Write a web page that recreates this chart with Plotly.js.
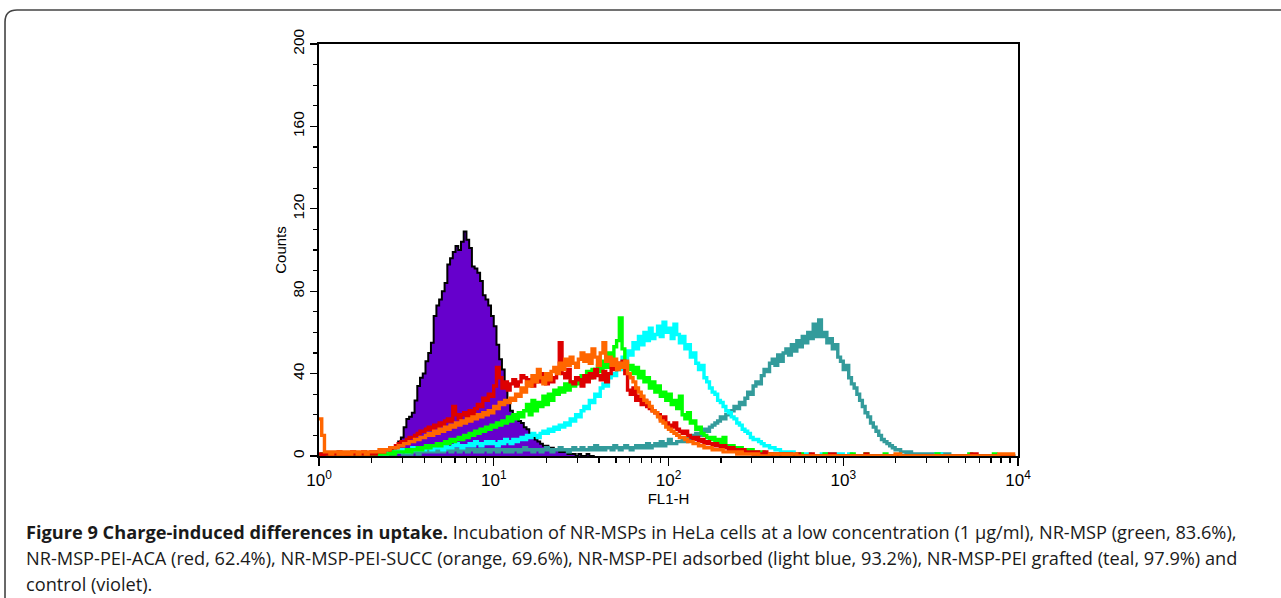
<!DOCTYPE html>
<html>
<head>
<meta charset="utf-8">
<script src="https://cdn.plot.ly/plotly-3.0.1.min.js"></script>
<style>
  html, body { margin: 0; padding: 0; background: #ffffff; }
  #chart { width: 1281px; height: 598px; }
</style>
</head>
<body>
<div id="chart"></div>
<script>
// FL1-H histogram: 64 channels per decade, channel c -> FL1-H = 10^(c/64)
const channelsPerDecade = 64;

// control (violet), channels starting at 20
const violetStart = 20;
const violetCounts = [0,1,0,1,1,1,2,3,4,7, 9,14,18,19,21,27,34,38,40,46, 50,55,68,73,76,80,84,93,96,99,
  102,100,104,109,105,101,92,91,89,85, 78,76,73,68,63,54,47,42,34,27, 22,19,18,17,16,14,13,11,9,8,
  7,6,5,5,4,4,3,3,2,2, 2,1,1,1,0,1,0,0,1,0, 0,0];

// NR-MSP-PEI grafted (teal), channels starting at 30
const tealStart = 30;
const tealCounts = [1,1,2,1,2,2,1,2,2,3, 2,2,3,2,3,2,3,3,2,3, 3,2,3,3,2,3,3,2,3,2, 3,3,2,3,3,2,3,3,2,3,
  2,3,3,2,3,4,3,3,2,3, 3,2,3,4,3,2,3,3,4,3, 3,2,3,4,3,3,4,3,3,4, 3,5,3,4,3,4,4,3,5,4,
  3,4,5,4,3,4,5,4,5,4, 6,4,5,6,5,7,5,6,8,6,
  6,7,7,8,7,9,8,10,11,10, 12,13,12,14,15,16,17,19,18,20, 21,22,24,23,26,25,28,31,30,34,
  36,35,39,42,41,45,47,44,49,46, 50,52,49,54,51,56,53,58,55,60, 57,64,58,66,58,60,55,57,52,54,
  48,46,42,44,38,35,33,30,27,24, 21,19,16,14,12,10,8,7,6,5, 4,3,3,2,2,1,2,1,1,1,
  1,1,0,1,1,0,1,1,0,1, 1,0];

// NR-MSP-PEI adsorbed (light blue), channels starting at 20
const cyanStart = 20;
const cyanCounts = [1,1,1,2,1,2,2,2,3,2, 3,3,2,3,4,3,3,4,3,4, 5,3,4,5,4,3,5,4,4,5, 6,5,4,5,5,6,5,7,6,5, 6,7,6,7,
  6,5,7,6,8,7,6,8,7,8, 9,8,10,9,11,10,9,11,12,11, 13,12,14,13,15,14,16,15,18,17,
  20,19,22,24,23,27,26,30,29,33, 35,34,38,40,39,44,42,48,46,
  51,49,55,52,58,54,60,56,62,57, 59,63,58,65,60,62,57,64,59,55, 58,52,54,48,50,45,42,44,38,36,
  33,31,30,27,26,24,22,21,19,18, 16,15,13,12,11,9,8,8,7,6, 5,5,4,4,3,3,2,2,2,1, 2,1,1,1,
  1,0,1,0,0,0,0,1,1,0, 1,1,0,1,1,0,0,1,0,0, 0,0,0,0,0,0,0,0,0,0, 0,0,0,0,0,0,0,0,0,0,
  0,0,0,0,0,0,0,0,0,1, 1,0,0,0];

// NR-MSP (green), channels starting at 0
const greenStart = 0;
const greenCounts = [0,1,1,0,1,1,1,0,1,1, 0,1,1,0,1,1,1,0,1,0, 1,1,1,1,1,1,2,1,2,2, 2,2,3,2,3,3,4,3,4,5,
  4,5,5,6,5,6,7,6,8,7, 8,9,8,10,9,11,10,12,11,13, 12,14,13,15,
  14,16,15,17,16,19,17,20,18,21, 19,22,25,20,27,22,26,24,29,25, 30,27,32,30,33,31,35,32,36,34,
  38,35,39,37,41,38,42,40,44,41, 46,43,50,47,53,56,67,52,45,
  42,44,40,43,38,41,36,38,33,36, 31,34,29,31,27,30,25,27,23,29, 20,18,21,16,17,13,14,11,10,9,
  8,9,7,8,6,9,5,4,5,4, 3,4,3,3,2,3,2,2,1,2, 1,1,1,
  0,0,0,0,1,0,0,0,0,0, 1,0,0,0,0,0,0,0,0,1, 0,0,0,0,0,0,0,0,0,1, 0,0,0,0,1,0,0,0,0,0,
  0,1,0,0,0,0,0,0,0,0, 0,0,0,0,0,0,0,0,0,0, 1,0,0,0,0,0,0,0,0,0, 0,0,1,0,0,0,0,0,0,0,
  0,1,0,0,0,0,0,0,0,0];

// NR-MSP-PEI-ACA (red), channels starting at 0
const redStart = 0;
const redCounts = [1,0,1,1,0,1,1,2,1,1, 0,1,2,1,1,1,2,1,1,2, 1,2,
  2,2,3,3,4,4,5,6,7,7, 8,9,9,10,11,12,12,13,14,13, 15,14,16,15,17,18,17,24,20,18, 20,21,19,22,20,23,25,24,28,27, 30,29,
  34,43,38,33,36,32,35,37,34,36, 39,38,35,37,34,38,36,40,37,35, 39,36,38,41,55,40,38,42,36,35,
  38,37,34,39,36,40,38,42,39,37, 41,36,40,43,42,45,44,46,
  40,32,30,33,27,29,25,27,24,23, 22,21,20,18,19,16,15,14,16,13, 12,11,12,10,9,8,9,7,8,6,
  7,6,5,6,5,4,5,4,3,4, 3,3,2,3,2,2,2,1,2,1, 1,2,1,1,0,1,1,0,1,0, 1,0,0,1,
  0,0,0,0,1,0,0,0,0,0, 0,1,1,0,0,0,0,0,0,0, 0,0,0,0,1,0,0,0,0,0, 0,0,0,0,0,0,0,0,0,0,
  0,0,0,0,0,0,0,0,0,0, 0,0,0,0,0,0,0,0,0,0, 0,0,0,1,1,0,0,0,0,0, 0,0,0,0,0,0,0,0,0,0];

// NR-MSP-PEI-SUCC (orange), channels starting at 0
const orangeStart = 0;
const orangeCounts = [18,10,2,2,1,2,2,1,2,1, 2,1,2,2,1,2,2,1,2,2, 2,2,3,2,3,3,4,4,4,5, 5,6,6,7,7,8,8,9,9,10,
  11,10,12,11,13,12,14,13,15,14, 16,15,17,16,18,17,19,18,20,19, 21,20,22,21,
  24,23,26,25,27,26,28,27,30,29, 33,31,36,34,39,36,42,38,35,40, 37,41,43,40,45,42,47,44,48,45,
  43,47,50,46,49,45,52,48,44,50, 55,46,48,44,47,42,45,43,46,
  40,38,36,33,31,29,27,26,24,22, 21,19,17,16,14,13,12,11,10,9, 9,8,7,7,6,6,5,5,4,4,
  4,3,3,3,3,2,2,2,2,2, 1,2,1,1,1,1,1,1,
  0,0,0,0,1,1,0,1,1,0, 1,0,1,1,0,0,0,0,0,0, 0,0,0,0,0,0,0,0,0,0, 0,0,0,0,0,0,0,0,0,0,
  0,0,0,0,0,0,0,0,0,0, 1,1,0,0,0,0,0,0,0,0, 0,0,0,0,0,0,0,0,0,0, 0,0,0,0,0,0,0,0,0,0,
  0,0,0,0,0,0,0,0,1,1, 1,1,1,1,1];

const xTickVals = [1, 10, 100, 1000, 10000];
const xTickText = ['10<sup>0</sup>', '10<sup>1</sup>', '10<sup>2</sup>', '10<sup>3</sup>', '10<sup>4</sup>'];
const captionLines = [
  '<b>Figure 9 Charge-induced differences in uptake.</b> Incubation of NR-MSPs in HeLa cells at a low concentration (1 µg/ml), NR-MSP (green, 83.6%),',
  'NR-MSP-PEI-ACA (red, 62.4%), NR-MSP-PEI-SUCC (orange, 69.6%), NR-MSP-PEI adsorbed (light blue, 93.2%), NR-MSP-PEI grafted (teal, 97.9%) and',
  'control (violet).'
];

function channelX(start, n) {
  const xs = [];
  for (let i = 0; i < n; i++) xs.push(Math.pow(10, (start + i) / channelsPerDecade));
  return xs;
}

function stepTrace(name, start, counts, color, width) {
  return {
    type: 'scatter', mode: 'lines', name: name,
    x: channelX(start, counts.length), y: counts,
    line: {shape: 'hv', color: color, width: width},
    hoverinfo: 'x+y+name'
  };
}

const violet = stepTrace('control', violetStart, violetCounts, '#000000', 2);
violet.fill = 'tozeroy';
violet.fillcolor = '#6600CC';

const data = [
  violet,
  stepTrace('NR-MSP-PEI grafted', tealStart, tealCounts, '#339B9B', 3.4),
  stepTrace('NR-MSP-PEI adsorbed', cyanStart, cyanCounts, '#00FFFF', 3.4),
  stepTrace('NR-MSP', greenStart, greenCounts, '#00FF00', 3.4),
  stepTrace('NR-MSP-PEI-ACA', redStart, redCounts, '#DD0000', 3.4),
  stepTrace('NR-MSP-PEI-SUCC', orangeStart, orangeCounts, '#FF6600', 3.4)
];

const minorX = [];
for (let d = 0; d < 4; d++) for (let k = 2; k <= 9; k++) minorX.push(k * Math.pow(10, d));

// caption line centres at y = 532, 558, 584 px
const captionY = [-0.1845, -0.2476, -0.3107];
const annotations = captionLines.map((t, i) => ({
  xref: 'paper', yref: 'paper', x: -0.4225, y: captionY[i],
  xanchor: 'left', yanchor: 'middle', showarrow: false, align: 'left',
  text: t, font: {family: 'Open Sans, Noto Sans, sans-serif', size: 18.2, color: '#1a1a1a'}
}));

const layout = {
  width: 1281, height: 598,
  margin: {l: 319, r: 263, t: 44, b: 142, pad: 0},
  paper_bgcolor: '#ffffff', plot_bgcolor: '#ffffff',
  showlegend: false,
  font: {family: 'Liberation Sans, Arial, sans-serif', color: '#000000'},
  xaxis: {
    type: 'log', range: [0, 4], autorange: false,
    tickmode: 'array', tickvals: xTickVals, ticktext: xTickText,
    ticks: 'outside', ticklen: 8, tickwidth: 1.3, tickcolor: '#000',
    minor: {tickmode: 'array', tickvals: minorX, ticks: 'outside', ticklen: 5, tickwidth: 1.2, tickcolor: '#000', showgrid: false},
    showline: true, linecolor: '#000', linewidth: 1.6, mirror: true,
    showgrid: false, zeroline: false,
    tickfont: {size: 17},
    title: {text: 'FL1-H', font: {size: 15}, standoff: 4}
  },
  yaxis: {
    range: [0, 200], autorange: false,
    tickmode: 'linear', tick0: 0, dtick: 40, tickangle: -90,
    ticks: 'outside', ticklen: 7, tickwidth: 1.3, tickcolor: '#000',
    minor: {dtick: 10, ticks: 'outside', ticklen: 4, tickwidth: 1.2, tickcolor: '#000', showgrid: false},
    showline: true, linecolor: '#000', linewidth: 1.6, mirror: true,
    showgrid: false, zeroline: false,
    tickfont: {size: 15.5},
    title: {text: 'Counts', font: {size: 15}, standoff: 0}
  },
  shapes: [{
    type: 'path', xref: 'paper', yref: 'paper',
    path: 'M -0.4492,-0.40 L -0.4492,1.0534 Q -0.4492,1.0825 -0.4320,1.0825 L 1.45,1.0825',
    line: {color: '#444444', width: 1.6}
  }],
  annotations: annotations
};

Plotly.newPlot('chart', data, layout, {displayModeBar: false, staticPlot: true});
</script>
</body>
</html>
